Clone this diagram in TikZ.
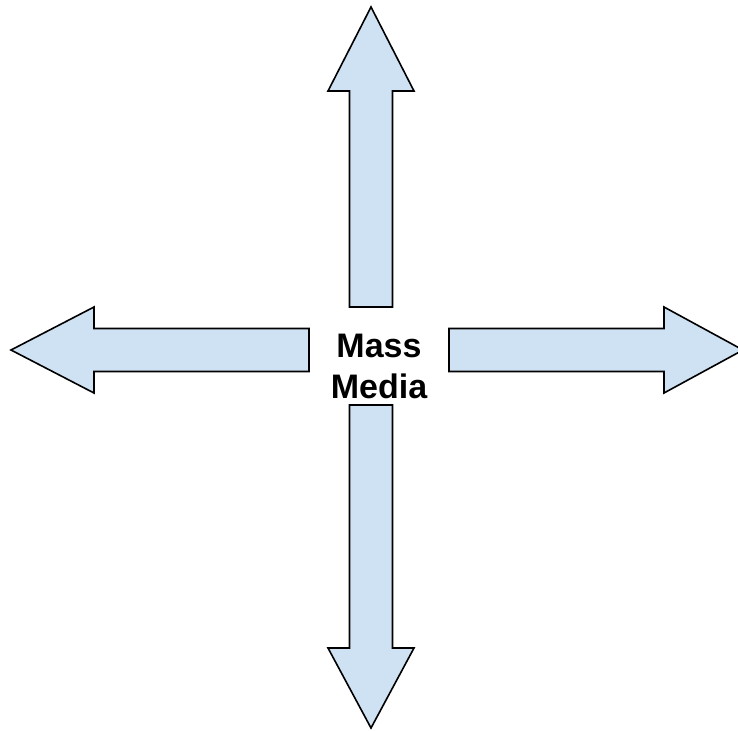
\documentclass[tikz,border=0pt]{standalone}
\usepackage{fontspec}
\setmainfont{Liberation Sans}
\usepackage{tikz}

\definecolor{arrowfill}{HTML}{CFE2F3}

\begin{document}
\begin{tikzpicture}[x=1pt, y=-1pt,
  bigarrow/.style={draw=black, fill=arrowfill, line width=1.6pt, line join=miter},
  label/.style={font=\fontsize{34}{41}\selectfont\bfseries, align=center}]
  \useasboundingbox (0,0) rectangle (738,730);

  % Draw the upward arrow
  \draw[bigarrow] (349.5,307) -- (349.5,91) -- (328,91) -- (371,7)
    -- (414,91) -- (392.5,91) -- (392.5,307) -- cycle;

  % Draw the leftward arrow
  \draw[bigarrow] (309,328.5) -- (94,328.5) -- (94,307) -- (11,350)
    -- (94,393) -- (94,371.5) -- (309,371.5) -- cycle;

  % Draw the rightward arrow
  \draw[bigarrow] (449,328.5) -- (664,328.5) -- (664,307) -- (743,350)
    -- (664,393) -- (664,371.5) -- (449,371.5) -- cycle;

  % Draw the downward arrow
  \draw[bigarrow] (349.5,405) -- (349.5,648) -- (328,648) -- (371,728)
    -- (414,648) -- (392.5,648) -- (392.5,405) -- cycle;

  % Add the centre label
  \node[label] (media) at (379,366.5) {Mass\\Media};
\end{tikzpicture}
\end{document}
